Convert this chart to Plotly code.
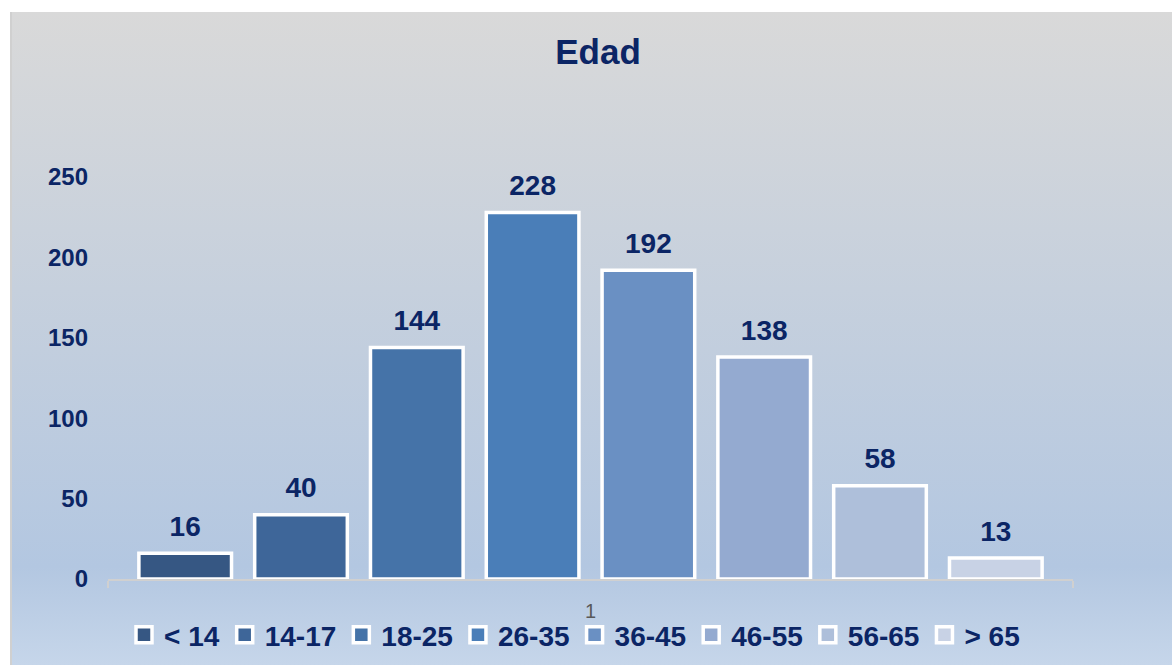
import base64
import plotly.graph_objects as go

# ---- data ----
categories = ["< 14", "14-17", "18-25", "26-35", "36-45", "46-55", "56-65", "> 65"]
values = [16, 40, 144, 228, 192, 138, 58, 13]
x_label = ["1"]
bar_colors = ["#365783", "#3e6699", "#4573a8", "#4a7eb8", "#6a90c3", "#94aad0", "#aebfda", "#c8d2e5"]
y_ticks = [0, 50, 100, 150, 200, 250]

NAVY = "#0b2565"
FONT = "Liberation Sans, Arial, sans-serif"

W, H = 1172, 665
ML, MR, MT, MB = 108, 99, 177, 86
PW, PH = W - ML - MR, H - MT - MB
GAP = 0.04

# background panel (gradient) as an SVG image
BX, BY = 10, 12
BW, BH = W - BX, H - BY
svg = f'''<svg xmlns="http://www.w3.org/2000/svg" width="{BW}" height="{BH}" viewBox="0 0 {BW} {BH}" preserveAspectRatio="none">
<defs><linearGradient id="g" x1="0" y1="0" x2="0" y2="1">
<stop offset="0" stop-color="#d9d9d9"/>
<stop offset="0.85" stop-color="#b3c7e1"/>
<stop offset="1" stop-color="#c6d6ea"/>
</linearGradient></defs>
<rect x="0" y="0" width="{BW}" height="{BH}" fill="url(#g)"/>
<rect x="0" y="0" width="2" height="{BH}" fill="#d0d0d0"/>
</svg>'''
src = "data:image/svg+xml;base64," + base64.b64encode(svg.encode()).decode()

fig = go.Figure()
# bars
for i, (name, val, col) in enumerate(zip(categories, values, bar_colors)):
    fig.add_trace(go.Bar(
        x=x_label, y=[val], name=name, showlegend=False, offsetgroup=str(i),
        marker=dict(color=col, line=dict(color="white", width=3.5)),
    ))
# value labels (scatter grouped the same way as the bars)
for i, (name, val) in enumerate(zip(categories, values)):
    fig.add_trace(go.Scatter(
        x=x_label, y=[val], mode="markers+text", text=[str(val)],
        textposition="top center", offsetgroup=str(i), showlegend=False,
        marker=dict(size=15, opacity=0), cliponaxis=False, hoverinfo="skip",
        textfont=dict(family=FONT, size=28, color=NAVY, weight="bold"),
    ))
# legend entries
for i, (name, col) in enumerate(zip(categories, bar_colors)):
    fig.add_trace(go.Scatter(
        x=x_label, y=[None], mode="markers", name=name, offsetgroup=str(i),
        marker=dict(symbol="square", size=16, color=col, line=dict(color="white", width=3.5)),
    ))

fig.add_layout_image(dict(
    source=src, xref="paper", yref="paper",
    x=(BX - ML) / PW, y=(H - MB - BY) / PH,
    sizex=BW / PW, sizey=BH / PH,
    xanchor="left", yanchor="top", sizing="stretch", layer="below",
))

fig.update_layout(
    width=W, height=H,
    margin=dict(l=ML, r=MR, t=MT, b=MB, autoexpand=False),
    paper_bgcolor="white", plot_bgcolor="rgba(0,0,0,0)",
    barmode="group", bargap=GAP, bargroupgap=0.2,
    scattermode="group", scattergap=GAP,
    title=dict(text="<b>Edad</b>", x=598 / W, xref="container", xanchor="center",
               y=1 - 52 / H, yref="container", yanchor="middle",
               font=dict(family=FONT, size=35, color=NAVY)),
    showlegend=True,
    legend=dict(orientation="h", x=0.5 - 16 / PW, xanchor="center",
                y=(H - MB - 635) / PH, yanchor="middle",
                bgcolor="rgba(0,0,0,0)", itemclick=False, itemdoubleclick=False,
                font=dict(family=FONT, size=28, color=NAVY, weight="bold")),
    xaxis=dict(type="category", showline=True, linecolor="#d0d0d0", linewidth=2,
               ticks="outside", tickson="boundaries", ticklen=7, tickwidth=2,
               tickcolor="#d0d0d0", showgrid=False,
               tickfont=dict(family=FONT, size=20, color="#595959"),
               ticklabelstandoff=13),
    yaxis=dict(range=[0, 250], tickvals=y_ticks, showgrid=False, zeroline=False,
               showline=False, ticks="", ticklabelstandoff=19,
               tickfont=dict(family=FONT, size=24, color=NAVY, weight="bold")),
)

fig.write_html("out.html", config={"displayModeBar": False},
               post_script="document.body.style.margin='0';")
